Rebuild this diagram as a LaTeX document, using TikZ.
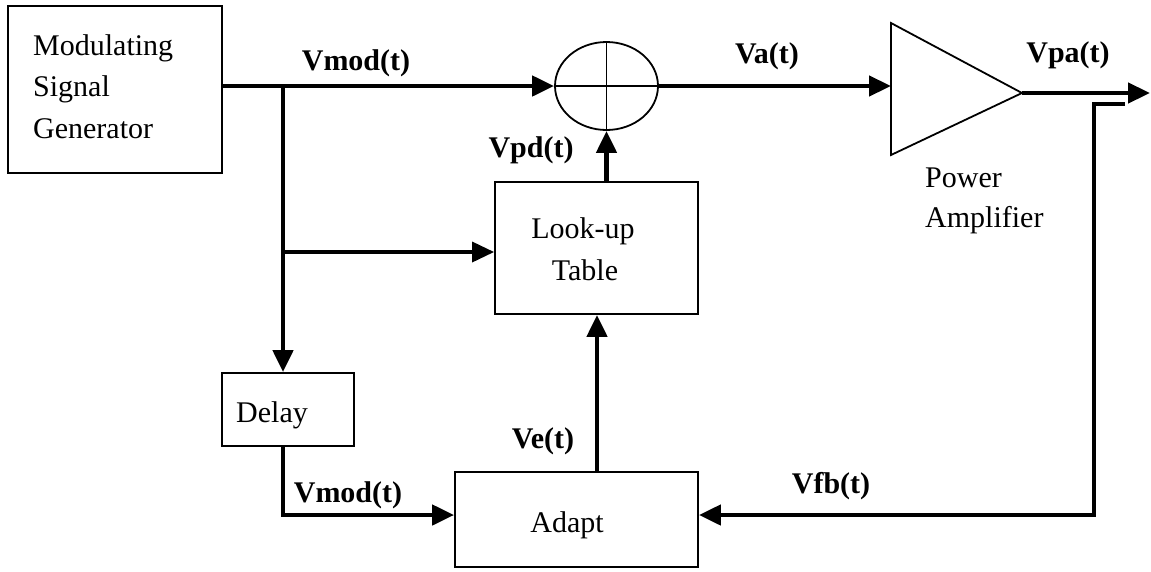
\documentclass[tikz,border=0pt]{standalone}
\usepackage{fontspec}
\setmainfont{Liberation Serif}
\usetikzlibrary{arrows.meta,shapes.geometric}
\begin{document}
\begin{tikzpicture}[x=1pt,y=-1pt,
  box/.style={draw,line width=1.8pt,inner sep=0pt},
  txt/.style={inner sep=0pt,anchor=base,font=\fontsize{30}{40}\selectfont},
  ltxt/.style={inner sep=0pt,anchor=base west,font=\fontsize{30}{40}\selectfont},
  lbl/.style={inner sep=0pt,anchor=base,font=\fontsize{30}{40}\selectfont\bfseries},
  sig/.style={line width=4.5pt,-{Triangle[length=22pt,width=20pt]}},
  wire/.style={line width=4.5pt}]
\useasboundingbox (0,0) rectangle (1151,571);
% boxes
\node[box,minimum width=214pt,minimum height=167pt] (gen) at (115,89.5) {};
\node[box,minimum width=203pt,minimum height=132pt] (lut) at (596.5,248) {};
\node[box,minimum width=132pt,minimum height=73pt] (delay) at (288,409.5) {};
\node[box,minimum width=243pt,minimum height=95pt] (adapt) at (576.5,519.5) {};
\node[draw,ellipse,line width=1.8pt,minimum width=103pt,minimum height=88pt,inner sep=0pt] (sum) at (606.5,86) {};
\draw[line width=1.8pt] (sum.north) -- (sum.south) (sum.west) -- (sum.east);
% amplifier
\coordinate (ampin) at (891,86);
\coordinate (ampout) at (1022,93);
\draw[line width=1.8pt,line join=miter] (891,23) -- (ampout) -- (891,155) -- cycle;
% texts
\node[ltxt] (gentxt1) at (33,55) {Modulating};
\node[ltxt] (gentxt2) at (33,96) {Signal};
\node[ltxt] (gentxt3) at (33,138) {Generator};
\node[txt] (luttxt1) at (583,238) {Look-up};
\node[txt] (luttxt2) at (585,280) {Table};
\node[txt] (delaytxt) at (272,422) {Delay};
\node[txt] (adapttxt) at (567,532) {Adapt};
\node[ltxt] (amptxt1) at (925,187) {Power};
\node[ltxt] (amptxt2) at (925,227) {Amplifier};
% labels
\node[lbl] (l1) at (356,70) {Vmod(t)};
\node[lbl] (l2) at (767,63) {Va(t)};
\node[lbl] (l3) at (1068,62) {Vpa(t)};
\node[lbl] (l4) at (531,157) {Vpd(t)};
\node[lbl] (l5) at (543,448) {Ve(t)};
\node[lbl] (l6) at (348,502) {Vmod(t)};
\node[lbl] (l7) at (831,493) {Vfb(t)};
% junction points
\coordinate (br) at (283,86);
\coordinate (brl) at (283,252);
\coordinate (dcorner) at (283,515);
\coordinate (vex) at (597,0);
\coordinate (fbtop) at (1125,104);
\coordinate (fbcorner) at (1094,104);
\coordinate (fbbottom) at (1094,515);
\coordinate (outend) at (1150,93);
% connectors
\draw[sig] (gen.east |- br) -- (sum.west);
\draw[sig] (br) -- (br |- delay.north);
\draw[line width=3.5pt,-{Triangle[length=22pt,width=20pt]}] (brl) -- (lut.west |- brl);
\draw[sig] (sum.east) -- (ampin);
\draw[sig] (ampout) -- (outend);
\draw[sig] (lut.north -| sum.south) -- (sum.south);
\draw[sig] (vex |- adapt.north) -- (vex |- lut.south);
\draw[sig] (dcorner |- delay.south) -- (dcorner) -- (adapt.west |- dcorner);
\draw[sig] (fbtop) -- (fbcorner) -- (fbbottom) -- (adapt.east |- fbbottom);
\end{tikzpicture}
\end{document}
